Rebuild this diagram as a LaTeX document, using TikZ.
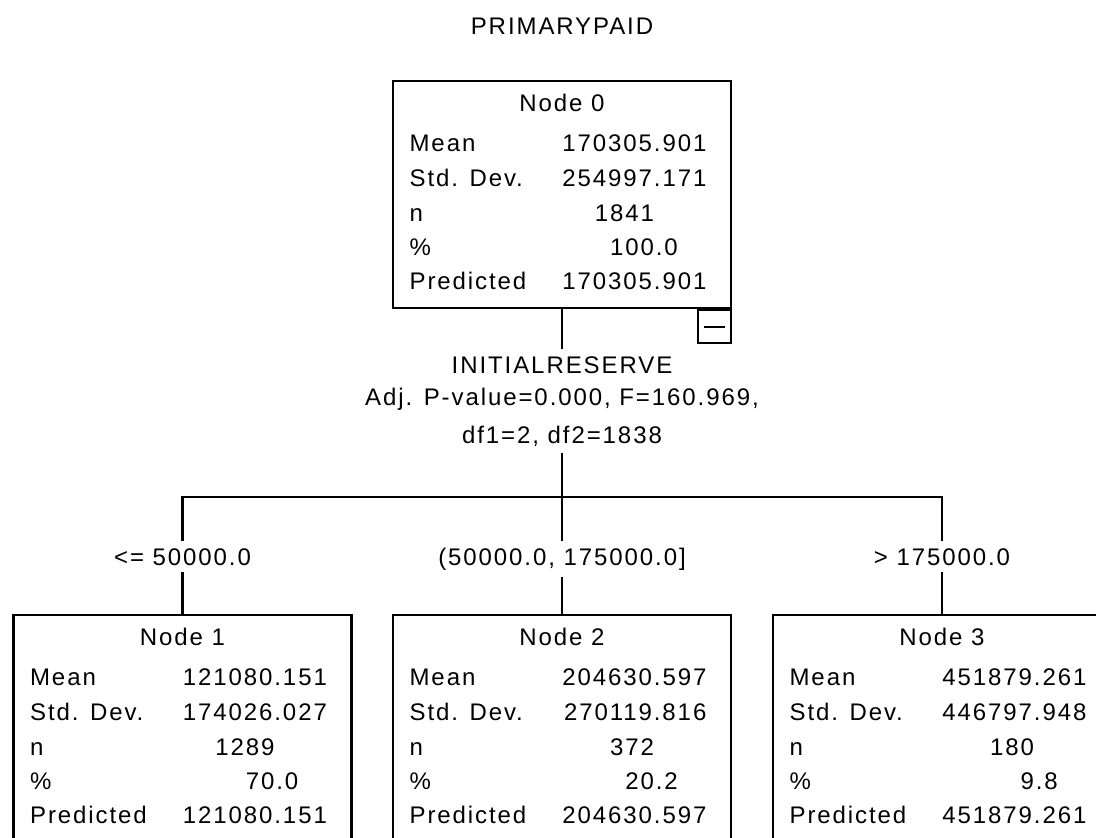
\documentclass[tikz,border=0pt]{standalone}
\usepackage{fontspec}
\setmainfont{Liberation Sans}[LetterSpace=8]
\usetikzlibrary{positioning}

% one box of the tree: name, centre x, top y, caption, mean, std. dev., n, percent, predicted
\newcommand{\treebox}[9]{%
    \node[nodebox] (#1) at (#2,#3) {};
    \node[txt] (#1-cap) at (#2,{#3+31}) {#4};
    \node[txt, anchor=base west] (#1-ml) at ({#2-159.5},{#3+71}) {Mean};
    \node[txt, anchor=base east] (#1-mv) at ({#2+151.5},{#3+71}) {#5};
    \node[txt, anchor=base west] (#1-sl) at ({#2-159.5},{#3+106}) {Std. Dev.};
    \node[txt, anchor=base east] (#1-sv) at ({#2+151.5},{#3+106}) {#6};
    \node[txt, anchor=base west] (#1-nl) at ({#2-159.5},{#3+141}) {n};
    \node[txt, anchor=base east] (#1-nv) at ({#2+151.5},{#3+141}) {#7\phantom{.000}};
    \node[txt, anchor=base west] (#1-pl) at ({#2-159.5},{#3+175}) {\%};
    \node[txt, anchor=base east] (#1-pv) at ({#2+151.5},{#3+175}) {#8\phantom{00}};
    \node[txt, anchor=base west] (#1-rl) at ({#2-159.5},{#3+209}) {Predicted};
    \node[txt, anchor=base east] (#1-rv) at ({#2+151.5},{#3+209}) {#9};
}

\begin{document}
\begin{tikzpicture}[x=1pt, y=-1pt, line width=2.2pt,
    txt/.style={anchor=base, inner sep=6pt, font=\fontsize{24}{28}\selectfont},
    nodebox/.style={draw, anchor=north, inner sep=0pt, minimum width=338pt, minimum height=227pt},
    foldbox/.style={draw, anchor=north east, inner sep=0pt, minimum size=33pt}]
    \useasboundingbox (0,0) rectangle (1096,838);
    \clip (0,0) rectangle (1096,838);

    % dependent variable
    \node[txt] (title) at (562,34) {PRIMARYPAID};

    % root and the three children
    \treebox{n0}{562}{80}{Node 0}{170305.901}{254997.171}{1841}{100.0}{170305.901}
    \treebox{n1}{182.5}{614}{Node 1}{121080.151}{174026.027}{1289}{70.0}{121080.151}
    \treebox{n2}{562}{614}{Node 2}{204630.597}{270119.816}{372}{20.2}{204630.597}
    \treebox{n3}{942}{614}{Node 3}{451879.261}{446797.948}{180}{9.8}{451879.261}

    % collapse box under the root
    \node[foldbox] (fold) at (n0.south east) {};
    \draw[line width=2pt] ([xshift=7pt]fold.west) -- ([xshift=-7pt]fold.east);

    % split variable and test
    \node[txt] (split) at (562,373) {INITIALRESERVE};
    \node[txt] (test) at (562,405) {Adj. P-value=0.000, F=160.969,};
    \node[txt] (dfs) at (562,443) {df1=2, df2=1838};

    % branch labels
    \node[txt] (br1) at (182.5,565) {<= 50000.0};
    \node[txt] (br2) at (562,565) {(50000.0, 175000.0]};
    \node[txt] (br3) at (942,565) {> 175000.0};

    \coordinate (b1) at (182.5,497);
    \coordinate (b2) at (562,497);
    \coordinate (b3) at (942,497);

    % connectors
    \draw (n0.south) -- (split.north);
    \draw (dfs.south) -- (b2);
    \draw (br1.north) -- (b1) -- (b3) -- (br3.north);
    \draw (b2) -- (br2.north);
    \draw (br1.south) -- (n1.north);
    \draw (br2.south) -- (n2.north);
    \draw (br3.south) -- (n3.north);
\end{tikzpicture}
\end{document}
